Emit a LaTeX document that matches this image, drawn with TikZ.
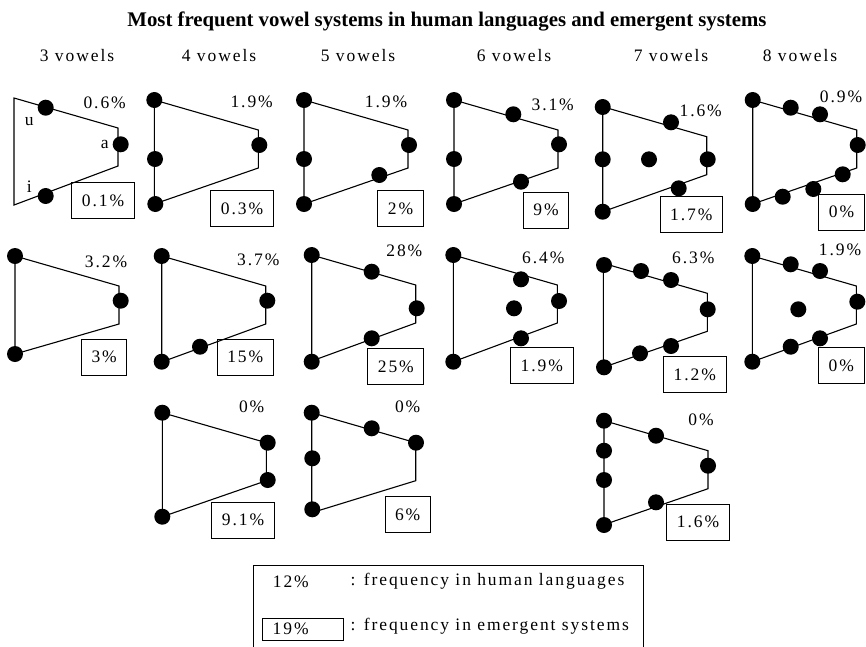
\documentclass[tikz,border=0pt]{standalone}
\usepackage{fontspec}
\setmainfont{Liberation Serif}
\newfontfamily\spacedfont[LetterSpace=11]{Liberation Serif}
\usepackage{tikz}
\usetikzlibrary{positioning}

\begin{document}
\begin{tikzpicture}[
x=1pt, y=-1pt, line width=1.1pt,
vowel-node/.style = {circle,fill=black,inner sep=0pt,minimum size=16pt},
freq-node/.style = {inner sep=0pt,font=\spacedfont\fontsize{17.5}{21}\selectfont},
emerg-node/.style = {freq-node,draw,line width=0.8pt,minimum height=36pt,inner xsep=10pt},
pics/space/.style = {code={\draw (0,0) -- (104,30) -- (104,68) -- (0,#1) -- cycle;}},
pics/space/.default = 105
]

\useasboundingbox (0,0) rectangle (866,646);
\clip (0,0) rectangle (866,646);

% titles
\node [font=\bfseries\fontsize{20.8}{25}\selectfont] (title) at (447,21) {Most frequent vowel systems in human languages and emergent systems};
\node [freq-node] (h3) at (77,56) {3 vowels};
\node [freq-node] (h4) at (219,56) {4 vowels};
\node [freq-node] (h5) at (358,56) {5 vowels};
\node [freq-node] (h6) at (514,56) {6 vowels};
\node [freq-node] (h7) at (671,56) {7 vowels};
\node [freq-node] (h8) at (800,56) {8 vowels};

% 3 vowels
\pic at (14,98) {space=107};
\node [vowel-node] (v3a-u) at (45.7,107.7) {};
\node [vowel-node] (v3a-a) at (120.7,144.3) {};
\node [vowel-node] (v3a-i) at (45.7,196) {};
\node [freq-node] at (29.3,121.7) {u};
\node [freq-node, left=3pt of v3a-a] {a};
\node [freq-node] at (29.3,186.7) {i};
\node [freq-node] (v3a-f) at (104.7,102.3) {0.6\%};
\node [emerg-node] (v3a-e) at (103,200.5) {0.1\%};

\pic at (15,256) {space=98};
\node [vowel-node] (v3b-1) at (15,256) {};
\node [vowel-node] (v3b-2) at (15,354) {};
\node [vowel-node] (v3b-3) at (120.7,300.7) {};
\node [freq-node] (v3b-f) at (106,261.7) {3.2\%};
\node [emerg-node] (v3b-e) at (104.2,357) {3\%};

% 4 vowels
\pic at (154.3,100) {space=104};
\node [vowel-node] (v4a-1) at (154.3,100) {};
\node [vowel-node] (v4a-2) at (155,159) {};
\node [vowel-node] (v4a-3) at (155.3,204) {};
\node [vowel-node] (v4a-4) at (259.3,145) {};
\node [freq-node] (v4a-f) at (251.7,101.7) {1.9\%};
\node [emerg-node] (v4a-e) at (242,208.5) {0.3\%};

\pic at (161.7,256) {space=106};
\node [vowel-node] (v4b-1) at (161.7,256) {};
\node [vowel-node] (v4b-2) at (161.7,361.7) {};
\node [vowel-node] (v4b-3) at (267.3,300.7) {};
\node [vowel-node] (v4b-4) at (200,346.7) {};
\node [freq-node] (v4b-f) at (258.3,259.3) {3.7\%};
\node [emerg-node] (v4b-e) at (245.3,357) {15\%};

\pic at (162.3,412.7) {space=104};
\node [vowel-node] (v4c-1) at (162.3,412.7) {};
\node [vowel-node] (v4c-2) at (267.7,442.7) {};
\node [vowel-node] (v4c-3) at (267.7,480) {};
\node [vowel-node] (v4c-4) at (162.3,516.7) {};
\node [freq-node] (v4c-f) at (251.7,406.7) {0\%};
\node [emerg-node] (v4c-e) at (243,520) {9.1\%};

% 5 vowels
\pic at (304,100) {space=104};
\node [vowel-node] (v5a-1) at (304,100) {};
\node [vowel-node] (v5a-2) at (304,159) {};
\node [vowel-node] (v5a-3) at (304,204) {};
\node [vowel-node] (v5a-4) at (409,145) {};
\node [vowel-node] (v5a-5) at (379.3,175) {};
\node [freq-node] (v5a-f) at (386,102) {1.9\%};
\node [emerg-node] (v5a-e) at (400.5,208.5) {2\%};

\pic at (311.7,255) {space=106};
\node [vowel-node] (v5b-1) at (311.7,255) {};
\node [vowel-node] (v5b-2) at (311.7,361.7) {};
\node [vowel-node] (v5b-3) at (371.7,271.7) {};
\node [vowel-node] (v5b-4) at (416.7,308.3) {};
\node [vowel-node] (v5b-5) at (371.7,338.3) {};
\node [freq-node] (v5b-f) at (404.3,250.7) {28\%};
\node [emerg-node] (v5b-e) at (395.8,366.3) {25\%};

\pic at (311.7,412.7) {space=100};
\node [vowel-node] (v5c-1) at (311.7,412.7) {};
\node [vowel-node] (v5c-2) at (371.7,428.3) {};
\node [vowel-node] (v5c-3) at (416,442.7) {};
\node [vowel-node] (v5c-4) at (312.3,458.3) {};
\node [vowel-node] (v5c-5) at (312.3,509.3) {};
\node [freq-node] (v5c-f) at (407.7,406.7) {0\%};
\node [emerg-node] (v5c-e) at (407.7,514.3) {6\%};

% 6 vowels
\pic at (454,100) {space=104};
\node [vowel-node] (v6a-1) at (454,100) {};
\node [vowel-node] (v6a-2) at (454,159) {};
\node [vowel-node] (v6a-3) at (454,204) {};
\node [vowel-node] (v6a-4) at (513.3,114.3) {};
\node [vowel-node] (v6a-5) at (559,144.3) {};
\node [vowel-node] (v6a-6) at (521,181.7) {};
\node [freq-node] (v6a-f) at (552.7,105) {3.1\%};
\node [emerg-node] (v6a-e) at (546,210) {9\%};

\pic at (453.3,255) {space=106.7};
\node [vowel-node] (v6b-1) at (453.3,255) {};
\node [vowel-node] (v6b-2) at (453.3,361.7) {};
\node [vowel-node] (v6b-3) at (521,279.3) {};
\node [vowel-node] (v6b-4) at (514,308.3) {};
\node [vowel-node] (v6b-5) at (559,301) {};
\node [vowel-node] (v6b-6) at (521,338.3) {};
\node [freq-node] (v6b-f) at (543.3,257.7) {6.4\%};
\node [emerg-node] (v6b-e) at (541.8,365.8) {1.9\%};

% 7 vowels
\pic at (602.7,106.7) {space=105};
\node [vowel-node] (v7a-1) at (602.7,107) {};
\node [vowel-node] (v7a-2) at (602.7,159.3) {};
\node [vowel-node] (v7a-3) at (602.7,211.7) {};
\node [vowel-node] (v7a-4) at (671,122.3) {};
\node [vowel-node] (v7a-5) at (649,159.3) {};
\node [vowel-node] (v7a-6) at (707.7,159.3) {};
\node [vowel-node] (v7a-7) at (678.7,188.3) {};
\node [freq-node] (v7a-f) at (700.7,111) {1.6\%};
\node [emerg-node] (v7a-e) at (691.3,214.5) {1.7\%};

\pic at (603.3,263.3) {space=104};
\node [vowel-node] (v7b-1) at (604,265) {};
\node [vowel-node] (v7b-2) at (604,367.3) {};
\node [vowel-node] (v7b-3) at (641,271) {};
\node [vowel-node] (v7b-4) at (671,280) {};
\node [vowel-node] (v7b-5) at (707.7,309.3) {};
\node [vowel-node] (v7b-6) at (671,346) {};
\node [vowel-node] (v7b-7) at (640,353.3) {};
\node [freq-node] (v7b-f) at (693.3,257.7) {6.3\%};
\node [emerg-node] (v7b-e) at (694.8,374.7) {1.2\%};

\pic at (604,420.7) {space=104};
\node [vowel-node] (v7c-1) at (604,420.7) {};
\node [vowel-node] (v7c-2) at (604,450.7) {};
\node [vowel-node] (v7c-3) at (604,480) {};
\node [vowel-node] (v7c-4) at (604,525) {};
\node [vowel-node] (v7c-5) at (656,435.7) {};
\node [vowel-node] (v7c-6) at (708,465.7) {};
\node [vowel-node] (v7c-7) at (656,502.3) {};
\node [freq-node] (v7c-f) at (701,419.3) {0\%};
\node [emerg-node] (v7c-e) at (698,522) {1.6\%};

% 8 vowels
\pic at (752.7,100) {space=104};
\node [vowel-node] (v8a-1) at (752.7,100) {};
\node [vowel-node] (v8a-2) at (790.7,107.7) {};
\node [vowel-node] (v8a-3) at (820,114.3) {};
\node [vowel-node] (v8a-4) at (857.7,145) {};
\node [vowel-node] (v8a-5) at (842.7,174.3) {};
\node [vowel-node] (v8a-6) at (813.3,189) {};
\node [vowel-node] (v8a-7) at (782.7,196.7) {};
\node [vowel-node] (v8a-8) at (752.7,204) {};
\node [freq-node] (v8a-f) at (841,96.7) {0.9\%};
\node [emerg-node] (v8a-e) at (841.5,212) {0\%};

\pic at (752.3,256) {space=105.7};
\node [vowel-node] (v8b-1) at (752.3,256) {};
\node [vowel-node] (v8b-2) at (790.7,264.3) {};
\node [vowel-node] (v8b-3) at (820,271) {};
\node [vowel-node] (v8b-4) at (857.3,301.7) {};
\node [vowel-node] (v8b-5) at (798.3,309.3) {};
\node [vowel-node] (v8b-6) at (820,338.3) {};
\node [vowel-node] (v8b-7) at (790.7,346.7) {};
\node [vowel-node] (v8b-8) at (752.3,361.7) {};
\node [freq-node] (v8b-f) at (840,250) {1.9\%};
\node [emerg-node] (v8b-e) at (841.3,365.7) {0\%};

% legend
\draw [line width=0.8pt] (253.3,660) -- (253.3,565.5) -- (643,565.5) -- (643,660);
\node [freq-node, anchor=west] (key-h) at (272.3,581.7) {12\%};
\node [freq-node, anchor=west] (key-ht) at (350,581.7) {: frequency in human languages};
\node [freq-node, draw, line width=0.8pt, anchor=west, minimum height=21.7pt,
       text width=60.4pt, inner xsep=10pt, align=left] (key-e) at (262.3,629.2) {19\%};
\node [freq-node, anchor=west] (key-et) at (350,626.7) {: frequency in emergent systems};

\end{tikzpicture}
\end{document}
